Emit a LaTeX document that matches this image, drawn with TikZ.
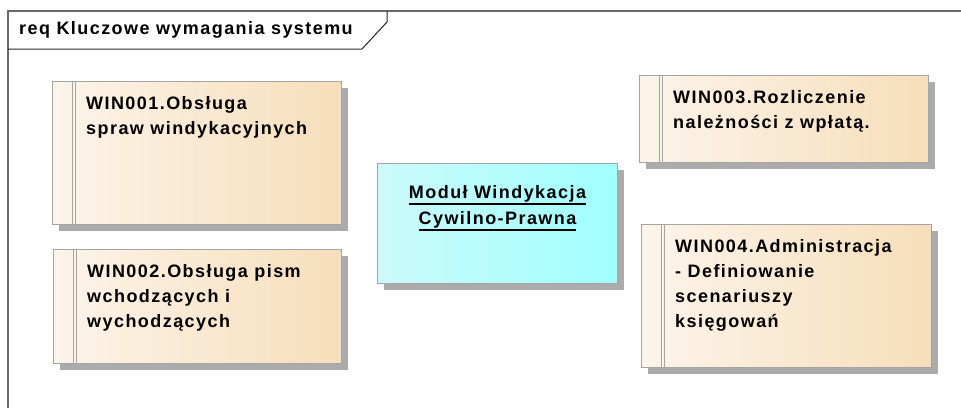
\documentclass[tikz,border=0pt]{standalone}
\usepackage{fontspec}
\setmainfont{Liberation Sans}[LetterSpace=8]
\usetikzlibrary{shadows}
\definecolor{boxL}{RGB}{252,244,234}
\definecolor{boxR}{RGB}{247,222,186}
\definecolor{cyL}{RGB}{204,250,250}
\definecolor{cyR}{RGB}{160,255,255}
\definecolor{shd}{RGB}{171,171,171}
\definecolor{edge}{RGB}{165,165,165}
\definecolor{frm}{RGB}{105,105,105}
\newcommand\myul[1]{\setbox0\hbox{#1}\rlap{\rule[-7pt]{\wd0}{2pt}}\box0}
\tikzset{
  base/.style={anchor=north west, inner sep=0pt, draw=edge, line width=1pt,
    general shadow={fill=shd, shadow xshift=6pt, shadow yshift=-6pt}},
  reqbox/.style={base, left color=boxL, right color=boxR},
  modbox/.style={base, left color=cyL, right color=cyR},
  reqtext/.style={anchor=north west, align=left, inner sep=0pt,
    font=\bfseries\fontsize{18}{25}\selectfont},
  modtext/.style={anchor=north, align=center, inner sep=0pt,
    font=\bfseries\fontsize{18}{26}\selectfont},
  hdrtext/.style={anchor=west, inner sep=0pt, font=\bfseries\fontsize{18}{20}\selectfont},
  bar/.style={draw=edge, line width=1pt}
}
\begin{document}
\begin{tikzpicture}[x=1pt,y=-1pt]
\useasboundingbox (0,0) rectangle (961,408);
% frame
\draw[frm, line width=1.5pt] (8,408) -- (8,11) -- (961,11);
\draw[black!85, line width=1pt] (8,49) -- (362,49) -- (387,22) -- (387,11);
\node[hdrtext] (hdr) at (19,30) {req Kluczowe wymagania systemu};
% requirement boxes
\node[reqbox, minimum width=289, minimum height=143] (w1) at (52,81) {};
\node[reqbox, minimum width=288, minimum height=114] (w2) at (53,249) {};
\node[reqbox, minimum width=289, minimum height=87] (w3) at (639,75) {};
\node[reqbox, minimum width=290, minimum height=143] (w4) at (641,224) {};
\foreach \b in {w1,w2,w3,w4}{
  \draw[bar] ([xshift=20pt]\b.north west) -- ([xshift=20pt]\b.south west);
  \draw[bar] ([xshift=23pt]\b.north west) -- ([xshift=23pt]\b.south west);
}
\node[reqtext] (t1) at ([xshift=34pt,yshift=-15pt]w1.north west) {WIN001.Obsługa\\spraw windykacyjnych};
\node[reqtext] (t2) at ([xshift=34pt,yshift=-15pt]w2.north west) {WIN002.Obsługa pism\\wchodzących i\\wychodzących};
\node[reqtext] (t3) at ([xshift=34pt,yshift=-15pt]w3.north west) {WIN003.Rozliczenie\\należności z wpłatą.};
\node[reqtext] (t4) at ([xshift=34pt,yshift=-15pt]w4.north west) {WIN004.Administracja\\- Definiowanie\\scenariuszy\\księgowań};
% module box
\node[modbox, minimum width=240, minimum height=120] (mod) at (377,163) {};
\node[modtext] (tm) at ([yshift=-22pt]mod.north) {\myul{Moduł Windykacja}\\\myul{Cywilno-Prawna}};
\end{tikzpicture}
\end{document}
